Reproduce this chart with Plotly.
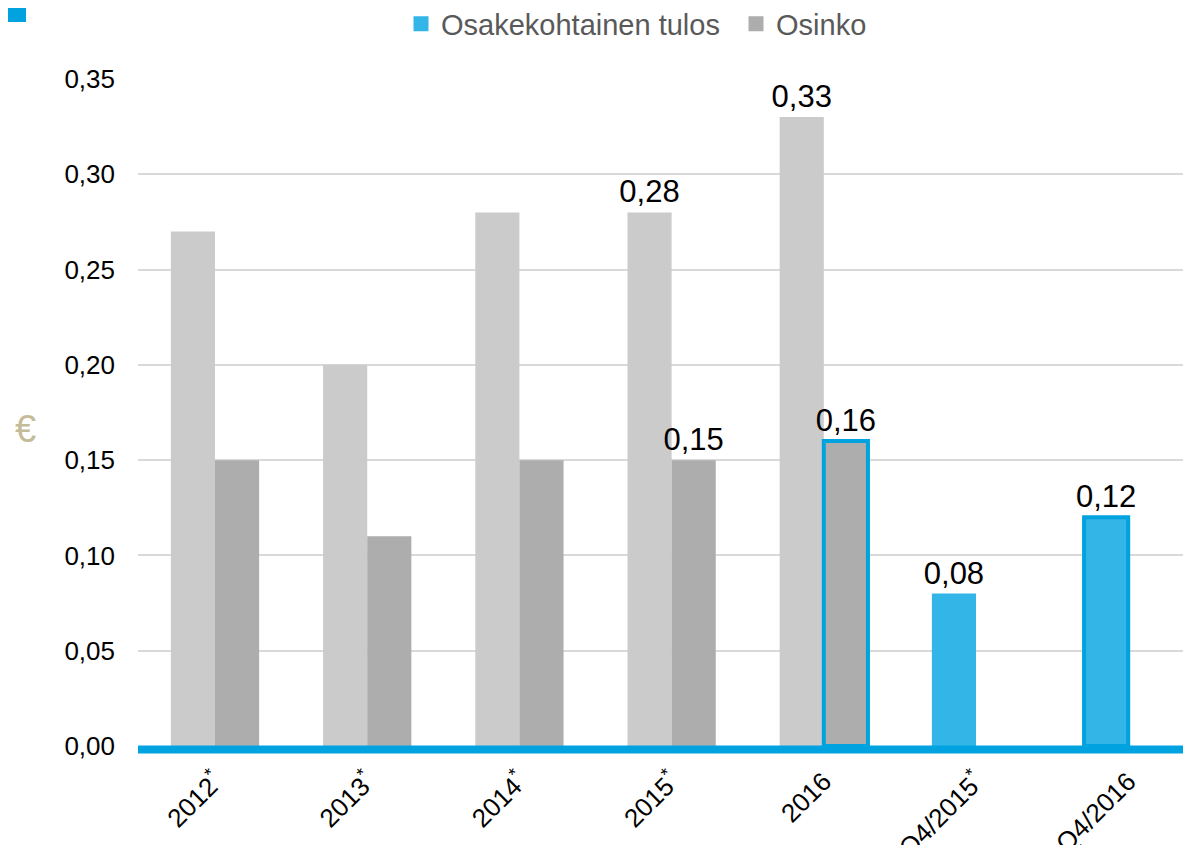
import plotly.graph_objects as go

categories = ["2012*", "2013*", "2014*", "2015*", "2016", "Q4/2015*", "Q4/2016"]
tick_labels = ["2012<sup>*</sup>", "2013<sup>*</sup>", "2014<sup>*</sup>", "2015<sup>*</sup>",
               "2016", "Q4/2015<sup>*</sup>", "Q4/2016"]
eps_values = [0.27, 0.20, 0.28, 0.28, 0.33, 0.08, 0.12]
dividend_values = [0.15, 0.11, 0.15, 0.15, 0.16, None, None]
eps_labels = ["", "", "", "0,28", "0,33", "0,08", "0,12"]
dividend_labels = ["", "", "", "0,15", "0,16", "", ""]
y_ticks = [0.0, 0.05, 0.10, 0.15, 0.20, 0.25, 0.30, 0.35]

LIGHT = "#CBCBCB"
DARK = "#ADADAD"
BLUE_FILL = "#33B5E8"
BLUE = "#00A3E0"
FONT = "Liberation Sans, Arial, sans-serif"

W, H = 1175, 837
L, T, B = 130, 71, 99
PW, PH = W - L, H - T - B
CAT_W = 152.2
X0 = -0.506


def px_x(x):
    return (x - L) / PW


def px_y(y):
    return (H - B - y) / PH


eps_colors = [LIGHT] * 5 + [BLUE_FILL] * 2
eps_line_w = [0, 0, 0, 0, 0, 0, 4]
div_line_w = [0, 0, 0, 0, 4, 0, 0]

fig = go.Figure()
fig.add_trace(go.Bar(
    x=categories, y=eps_values, name="Osakekohtainen tulos", showlegend=False,
    marker=dict(color=eps_colors, line=dict(color=BLUE, width=eps_line_w)),
    text=eps_labels, textposition="outside", cliponaxis=False, constraintext="none",
    textfont=dict(size=31, color="#000000", family=FONT),
))
fig.add_trace(go.Bar(
    x=categories, y=dividend_values, name="Osinko", showlegend=False,
    marker=dict(color=DARK, line=dict(color=BLUE, width=div_line_w)),
    text=dividend_labels, textposition="outside", cliponaxis=False, constraintext="none",
    textfont=dict(size=31, color="#000000", family=FONT),
))
# legend entries
fig.add_trace(go.Scatter(x=[None], y=[None], mode="markers", name="Osakekohtainen tulos",
                         marker=dict(symbol="square", size=15, color=BLUE_FILL)))
fig.add_trace(go.Scatter(x=[None], y=[None], mode="markers", name="Osinko",
                         marker=dict(symbol="square", size=15, color=DARK)))

fig.update_layout(
    width=W, height=H,
    margin=dict(l=L, r=0, t=T, b=B, autoexpand=False),
    paper_bgcolor="white", plot_bgcolor="white",
    barmode="group", bargap=0.42, bargroupgap=0,
    separators=", ",
    font=dict(family=FONT, color="#000000"),
    legend=dict(orientation="h", x=px_x(393), xanchor="left", y=px_y(16), yanchor="middle",
                font=dict(size=29, color="#595959", family=FONT),
                entrywidth=290, entrywidthmode="pixels"),
    showlegend=True,
)
fig.update_xaxes(
    type="category", categoryorder="array", categoryarray=categories,
    range=[X0, X0 + PW / CAT_W], automargin=False,
    tickmode="array", tickvals=categories, ticktext=tick_labels,
    tickangle=-45, tickfont=dict(size=26, color="#000000", family=FONT),
    showgrid=False, showline=False, ticks="", ticklabelstandoff=14,
)
fig.update_yaxes(
    range=[0, 0.35], tickmode="array", tickvals=y_ticks, tickformat=".2f",
    tickfont=dict(size=26, color="#000000", family=FONT), automargin=False,
    showgrid=True, gridcolor="#D9D9D9", gridwidth=1.5,
    zeroline=False, showline=False, ticks="", ticklabelstandoff=22,
)
# thick blue baseline just under the zero level
fig.add_shape(type="line", xref="paper", yref="paper", x0=0, x1=1,
              y0=-3.5 / PH, y1=-3.5 / PH,
              line=dict(color=BLUE, width=8), layer="above")
fig.add_shape(type="rect", xref="paper", yref="paper",
              x0=px_x(0), x1=px_x(18), y0=px_y(14), y1=px_y(-4),
              fillcolor=BLUE, line=dict(width=0))
fig.add_annotation(text="€", xref="paper", yref="paper",
                   x=px_x(17), y=px_y(421), xanchor="center", yanchor="middle",
                   showarrow=False,
                   font=dict(size=38, color="#C5BB98", family=FONT))

fig.write_html("out.html")
